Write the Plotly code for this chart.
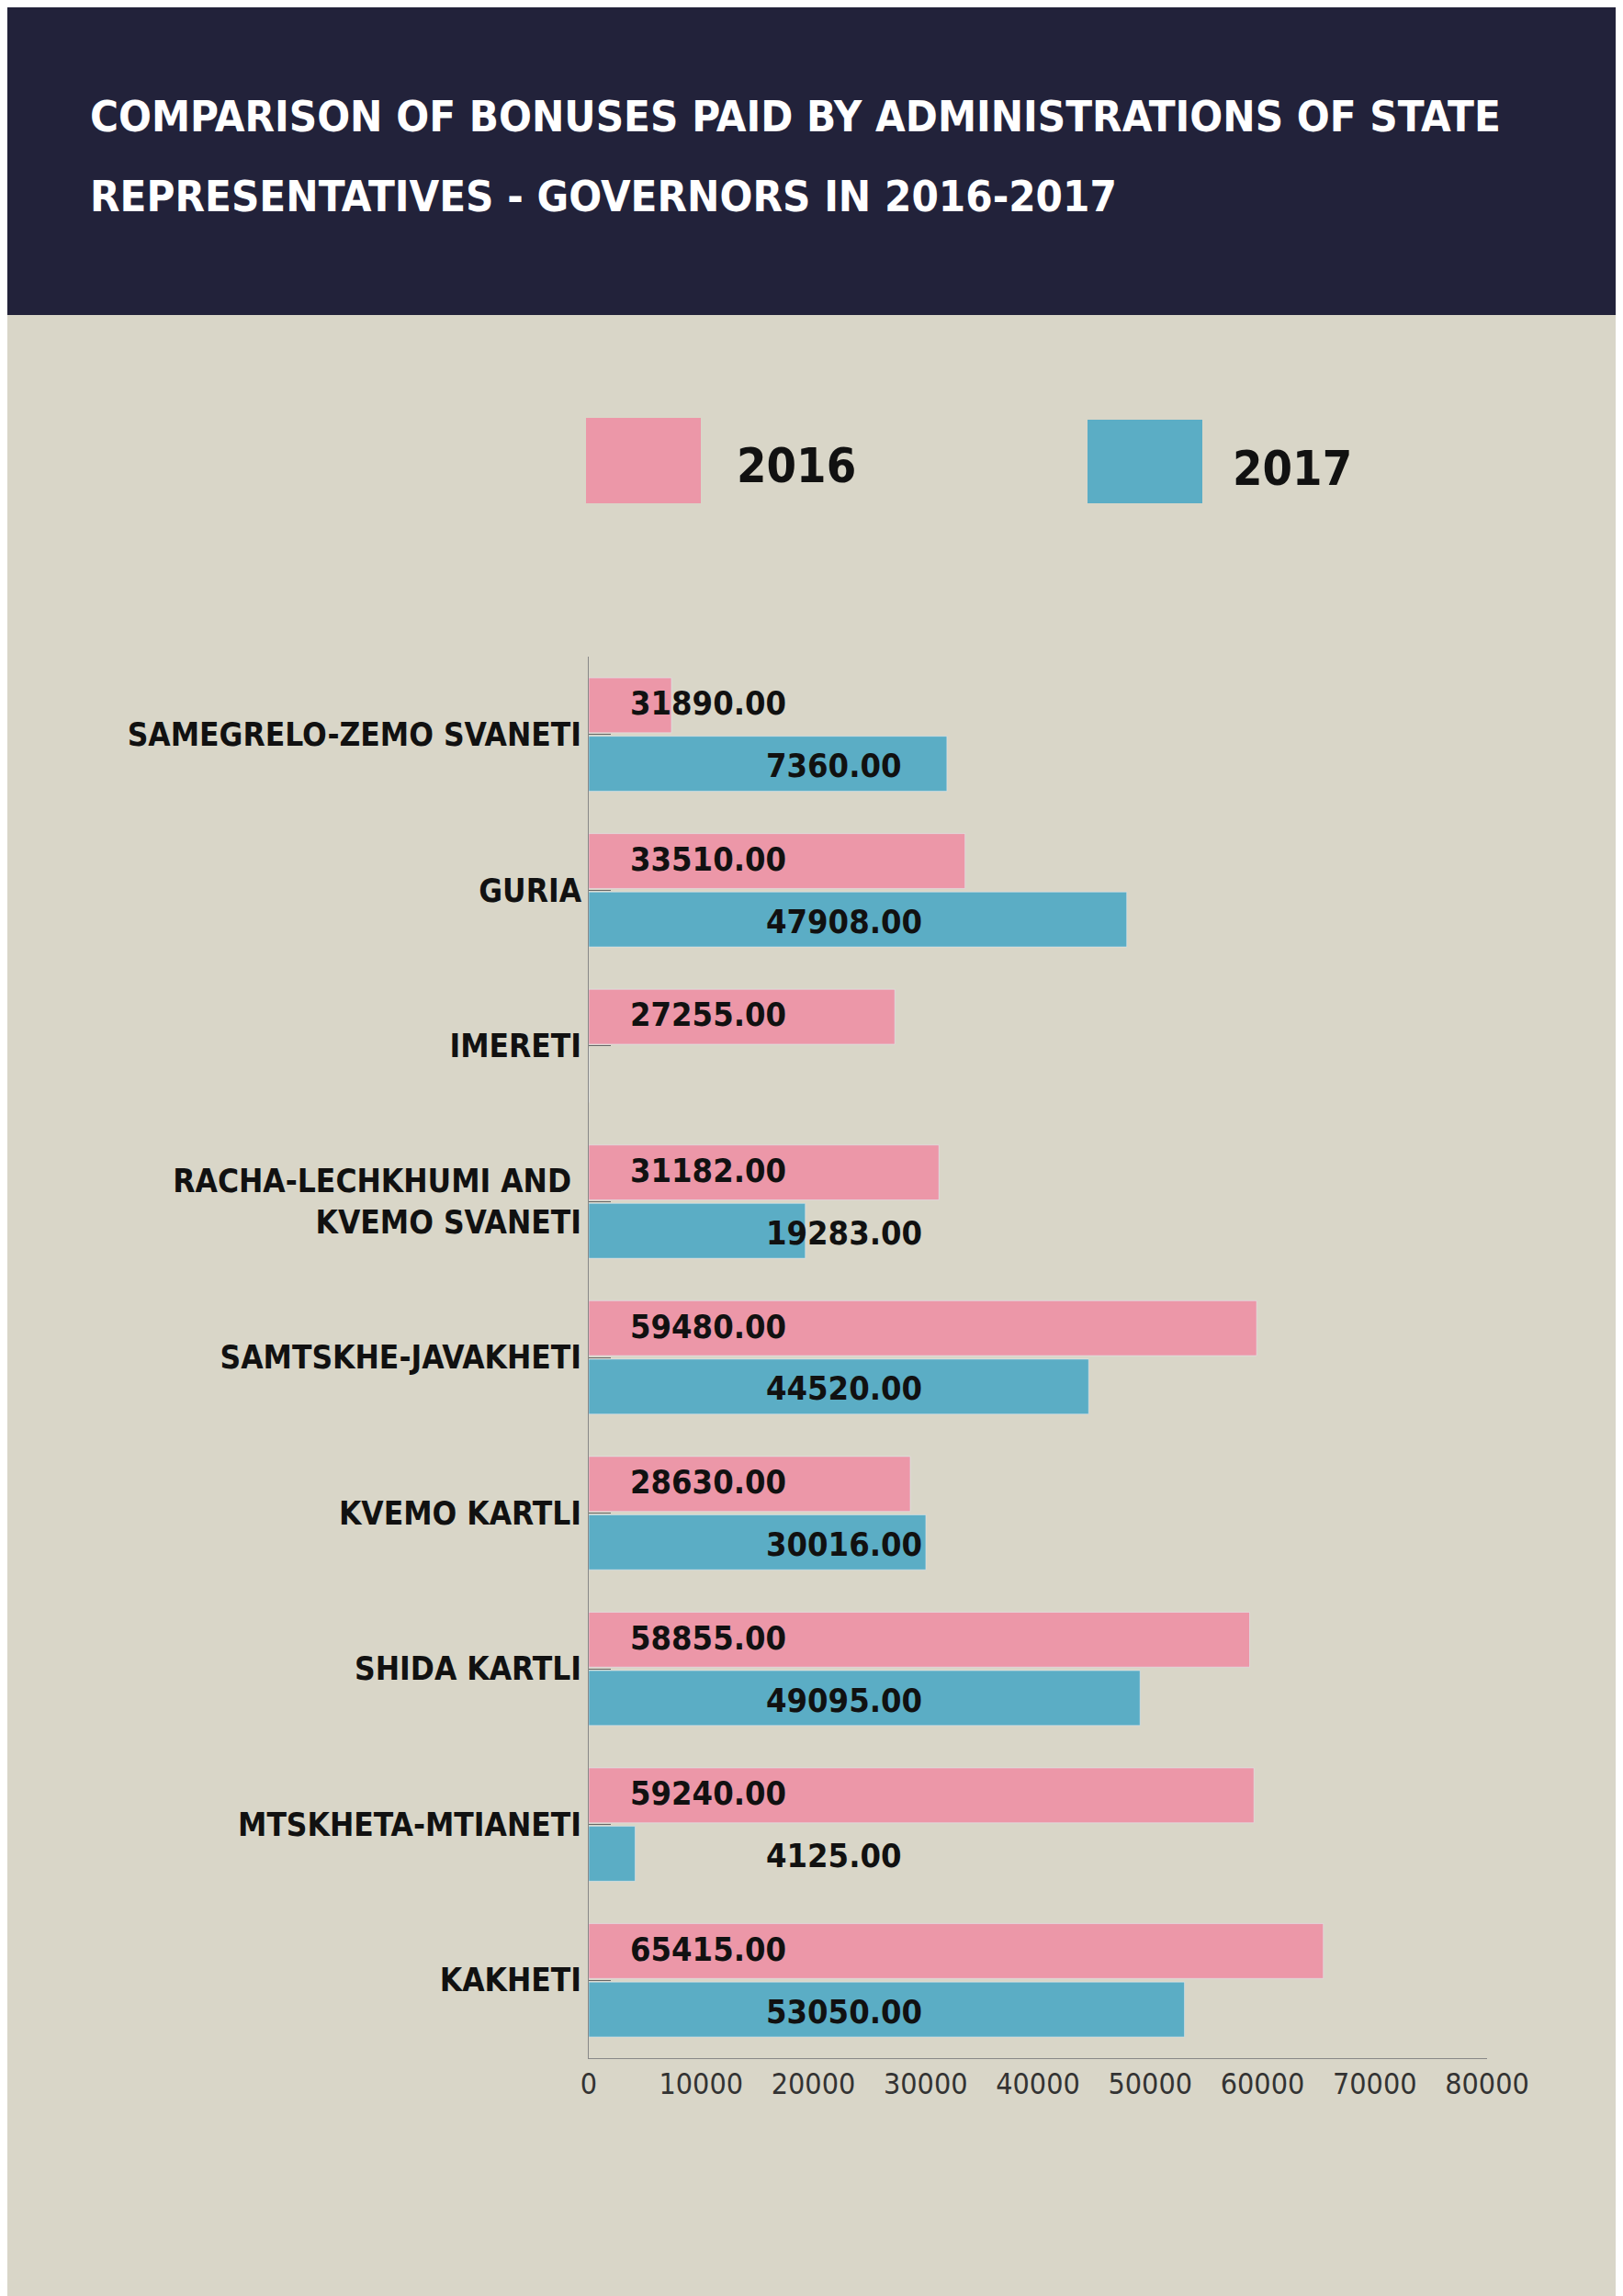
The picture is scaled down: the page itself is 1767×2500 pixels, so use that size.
import plotly.graph_objects as go

regions = ["SAMEGRELO-ZEMO SVANETI", "GURIA", "IMERETI", "RACHA-LECHKHUMI AND <br>KVEMO SVANETI",
           "SAMTSKHE-JAVAKHETI", "KVEMO KARTLI", "SHIDA KARTLI", "MTSKHETA-MTIANETI", "KAKHETI"]
bars_2016 = [7360, 33510, 27255, 31182, 59480, 28630, 58855, 59240, 65415]
bars_2017 = [31890, 47908, 0, 19283, 44520, 30016, 49095, 4125, 53050]
labels_2016 = ["31890.00", "33510.00", "27255.00", "31182.00", "59480.00", "28630.00", "58855.00", "59240.00", "65415.00"]
labels_2017 = ["7360.00", "47908.00", "", "19283.00", "44520.00", "30016.00", "49095.00", "4125.00", "53050.00"]
xticks = [0, 10000, 20000, 30000, 40000, 50000, 60000, 70000, 80000]

PINK = "#ec97a8"
BLUE = "#5badc5"
BG = "#d9d6c8"
DARK = "#22223a"
FONT = "DejaVu Sans Condensed"

fig = go.Figure()
fig.add_bar(y=regions, x=bars_2016, orientation="h", marker_color=PINK, name="2016", hoverinfo="x")
fig.add_bar(y=regions, x=bars_2017, orientation="h", marker_color=BLUE, name="2017", hoverinfo="x")

for trace_i, labs, xpos in ((0, labels_2016, 3500), (1, labels_2017, 15600)):
    for i, (r, t) in enumerate(zip(regions, labs)):
        if not t:
            continue
        fig.add_annotation(x=xpos, y=i + (-0.2 if trace_i == 0 else 0.2), yref="y", xref="x",
                           text="<b>" + t + "</b>", showarrow=False, xanchor="left",
                           font=dict(family=FONT, size=36, color="#111111"))

fig.update_layout(
    width=1767, height=2500, paper_bgcolor=BG, plot_bgcolor=BG,
    margin=dict(l=633, r=156, t=707, b=267),
    barmode="group", bargap=0.25, bargroupgap=0.06, showlegend=False,
    xaxis=dict(range=[0, 80000], tickvals=xticks, ticktext=[str(v) for v in xticks],
               showgrid=False, zeroline=False,
               showline=True, linecolor="#888888", linewidth=1, ticks="",
               tickfont=dict(family=FONT, size=32, color="#333333")),
    yaxis=dict(autorange="reversed", showgrid=False, showline=True, linecolor="#888888",
               linewidth=1, ticks="inside", ticklen=24, tickcolor="#666666",
               tickvals=regions, ticktext=["<b>" + r.replace("<br>", "</b><br><b>") + "</b>" for r in regions],
               tickfont=dict(family=FONT, size=35, color="#111111")),
    font=dict(family=FONT),
)
fig.add_shape(type="rect", xref="paper", yref="paper", x0=-0.8, x1=1.2, y0=1.0 + (707 - 335) / 1526, y1=1.6,
              fillcolor=DARK, line_width=0, layer="below")
for txt, yp in (("COMPARISON OF BONUSES PAID BY ADMINISTRATIONS OF STATE", 118),
                ("REPRESENTATIVES - GOVERNORS IN 2016-2017", 205)):
    fig.add_annotation(xref="paper", yref="paper", x=(88 - 633) / 978, y=1 + (707 - yp) / 1526, xanchor="left",
                       yanchor="middle", showarrow=False, align="left",
                       text="<b>" + txt + "</b>", font=dict(family=FONT, size=47, color="white"))

def px(xp):
    return (xp - 633) / 978
def py(yp):
    return 1 + (707 - yp) / 1526
fig.add_shape(type="rect", xref="paper", yref="paper", x0=px(630), x1=px(755), y0=py(540), y1=py(447),
              fillcolor=PINK, line_width=0)
fig.add_shape(type="rect", xref="paper", yref="paper", x0=px(1176), x1=px(1301), y0=py(540), y1=py(449),
              fillcolor=BLUE, line_width=0)
fig.add_annotation(xref="paper", yref="paper", x=px(792), y=py(499), xanchor="left", yanchor="middle", showarrow=False,
                   text="<b>2016</b>", font=dict(family=FONT, size=52, color="#111111"))
fig.add_annotation(xref="paper", yref="paper", x=px(1332), y=py(502), xanchor="left", yanchor="middle", showarrow=False,
                   text="<b>2017</b>", font=dict(family=FONT, size=52, color="#111111"))

fig.write_html("out.html")
